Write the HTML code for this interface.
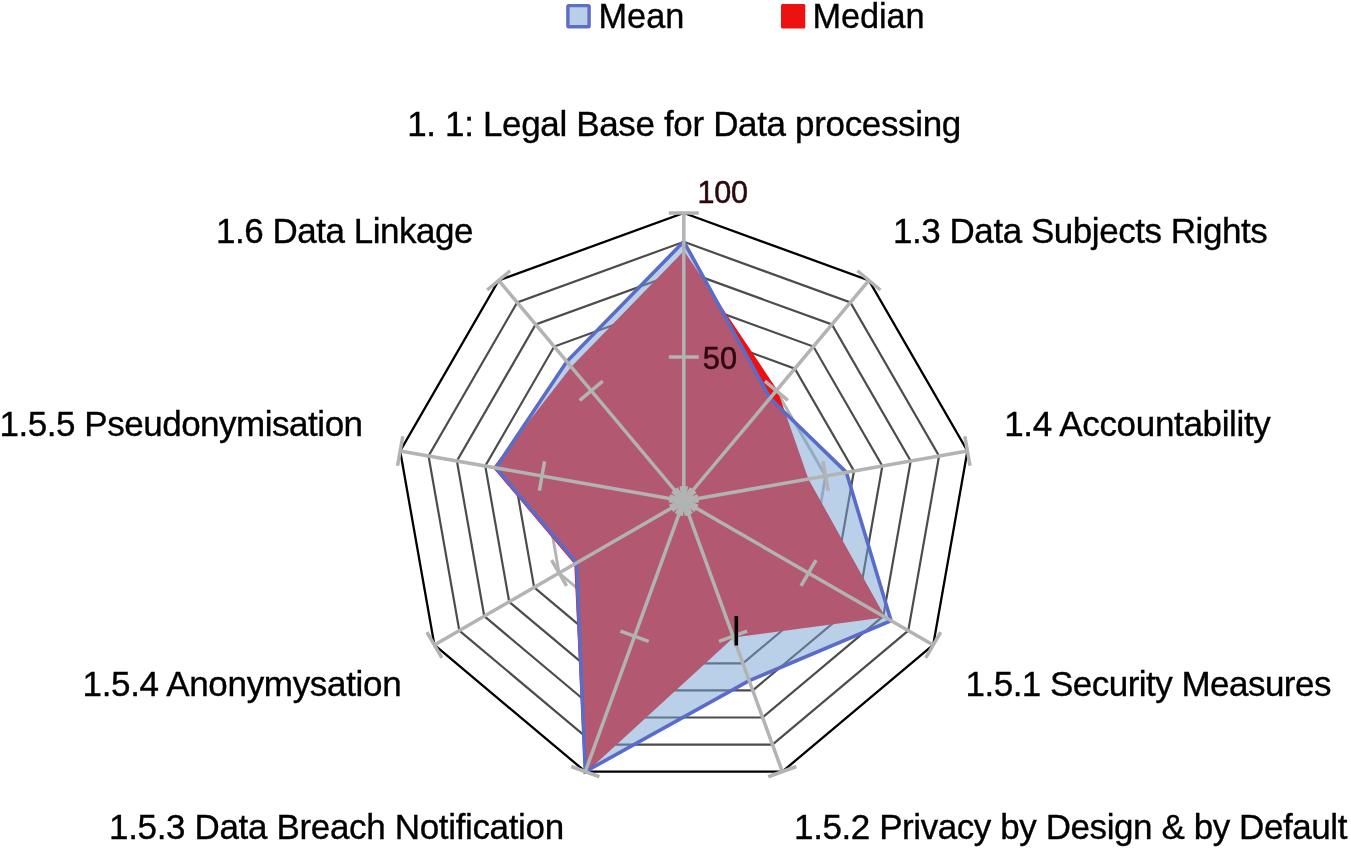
<!DOCTYPE html>
<html><head><meta charset="utf-8"><title>Radar chart</title>
<style>
html,body{margin:0;padding:0;background:#fff;}
body{width:1351px;height:849px;overflow:hidden;}
svg{display:block;}
</style></head><body>
<svg width="1351" height="849" viewBox="0 0 1351 849">
<rect width="1351" height="849" fill="#fff"/>
<g fill="none" stroke-linejoin="miter">
<polygon points="683.80,472.20 702.31,478.94 712.16,496.00 708.74,515.40 693.65,528.06 673.95,528.06 658.86,515.40 655.44,496.00 665.29,478.94" stroke="#4c4c4c" stroke-width="2.2"/>
<polygon points="683.80,443.40 720.82,456.88 740.52,491.00 733.68,529.80 703.50,555.13 664.10,555.13 633.92,529.80 627.08,491.00 646.78,456.88" stroke="#4c4c4c" stroke-width="2.2"/>
<polygon points="683.80,414.60 739.34,434.81 768.89,486.00 758.62,544.20 713.35,582.19 654.25,582.19 608.98,544.20 598.71,486.00 628.26,434.81" stroke="#4c4c4c" stroke-width="2.2"/>
<polygon points="683.80,385.80 757.85,412.75 797.25,481.00 783.57,558.60 723.20,609.25 644.40,609.25 584.03,558.60 570.35,481.00 609.75,412.75" stroke="#4c4c4c" stroke-width="2.2"/>
<polygon points="683.80,328.20 794.87,368.63 853.97,470.99 833.45,587.40 742.90,663.38 624.70,663.38 534.15,587.40 513.63,470.99 572.73,368.63" stroke="#4c4c4c" stroke-width="2.2"/>
<polygon points="683.80,299.40 813.39,346.57 882.34,465.99 858.39,601.80 752.75,690.44 614.85,690.44 509.21,601.80 485.26,465.99 554.21,346.57" stroke="#4c4c4c" stroke-width="2.2"/>
<polygon points="683.80,270.60 831.90,324.50 910.70,460.99 883.33,616.20 762.60,717.51 605.00,717.51 484.27,616.20 456.90,460.99 535.70,324.50" stroke="#4c4c4c" stroke-width="2.2"/>
<polygon points="683.80,241.80 850.41,302.44 939.06,455.99 908.27,630.60 772.45,744.57 595.15,744.57 459.33,630.60 428.54,455.99 517.19,302.44" stroke="#4c4c4c" stroke-width="2.2"/>
<polygon points="683.80,357.00 776.36,390.69 825.61,475.99 808.51,573.00 733.05,636.32 634.55,636.32 559.09,573.00 541.99,475.99 591.24,390.69" stroke="#b2b3b3" stroke-width="2.9"/>
<polygon points="683.80,213.00 868.92,280.38 967.42,450.99 933.22,645.00 782.30,771.63 585.30,771.63 434.38,645.00 400.18,450.99 498.68,280.38" stroke="#000" stroke-width="2.3"/>
</g>
<polygon points="683.80,252.74 776.36,390.69 807.18,479.25 883.33,616.20 733.05,636.32 585.30,771.63 575.43,563.57 494.48,467.62 571.99,367.75" fill="#f01010" stroke="#f01010" stroke-width="2.4" stroke-linejoin="miter"/>
<polygon points="683.80,241.51 770.07,398.19 846.32,472.34 891.06,620.66 749.21,680.70 585.30,771.63 576.55,562.92 495.76,467.84 566.80,361.57" fill="rgba(115,161,209,0.5)" stroke="none"/>
<polygon points="683.80,241.51 770.07,398.19 846.32,472.34 891.06,620.66 749.21,680.70 585.30,771.63 576.55,562.92 495.76,467.84 566.80,361.57" fill="none" stroke="#5a6cc8" stroke-width="3.6" stroke-linejoin="miter" stroke-miterlimit="3"/>
<g stroke="#b2b3b3" stroke-width="3.5" fill="none">
<g transform="translate(683.80 501.00) rotate(0.000)">
<line x1="0" y1="0" x2="0" y2="-288.00"/>
<line x1="-15" y1="-0.00" x2="15" y2="-0.00"/>
<line x1="-15" y1="-144.00" x2="15" y2="-144.00"/>
<line x1="-15" y1="-288.00" x2="15" y2="-288.00"/>
</g>
<g transform="translate(683.80 501.00) rotate(40.000)">
<line x1="0" y1="0" x2="0" y2="-288.00"/>
<line x1="-15" y1="-0.00" x2="15" y2="-0.00"/>
<line x1="-15" y1="-144.00" x2="15" y2="-144.00"/>
<line x1="-15" y1="-288.00" x2="15" y2="-288.00"/>
</g>
<g transform="translate(683.80 501.00) rotate(80.000)">
<line x1="0" y1="0" x2="0" y2="-288.00"/>
<line x1="-15" y1="-0.00" x2="15" y2="-0.00"/>
<line x1="-15" y1="-144.00" x2="15" y2="-144.00"/>
<line x1="-15" y1="-288.00" x2="15" y2="-288.00"/>
</g>
<g transform="translate(683.80 501.00) rotate(120.000)">
<line x1="0" y1="0" x2="0" y2="-288.00"/>
<line x1="-15" y1="-0.00" x2="15" y2="-0.00"/>
<line x1="-15" y1="-144.00" x2="15" y2="-144.00"/>
<line x1="-15" y1="-288.00" x2="15" y2="-288.00"/>
</g>
<g transform="translate(683.80 501.00) rotate(160.000)">
<line x1="0" y1="0" x2="0" y2="-288.00"/>
<line x1="-15" y1="-0.00" x2="15" y2="-0.00"/>
<line x1="-15" y1="-144.00" x2="15" y2="-144.00"/>
<line x1="-15" y1="-288.00" x2="15" y2="-288.00"/>
</g>
<g transform="translate(683.80 501.00) rotate(200.000)">
<line x1="0" y1="0" x2="0" y2="-288.00"/>
<line x1="-15" y1="-0.00" x2="15" y2="-0.00"/>
<line x1="-15" y1="-144.00" x2="15" y2="-144.00"/>
<line x1="-15" y1="-288.00" x2="15" y2="-288.00"/>
</g>
<g transform="translate(683.80 501.00) rotate(240.000)">
<line x1="0" y1="0" x2="0" y2="-288.00"/>
<line x1="-15" y1="-0.00" x2="15" y2="-0.00"/>
<line x1="-15" y1="-144.00" x2="15" y2="-144.00"/>
<line x1="-15" y1="-288.00" x2="15" y2="-288.00"/>
</g>
<g transform="translate(683.80 501.00) rotate(280.000)">
<line x1="0" y1="0" x2="0" y2="-288.00"/>
<line x1="-15" y1="-0.00" x2="15" y2="-0.00"/>
<line x1="-15" y1="-144.00" x2="15" y2="-144.00"/>
<line x1="-15" y1="-288.00" x2="15" y2="-288.00"/>
</g>
<g transform="translate(683.80 501.00) rotate(320.000)">
<line x1="0" y1="0" x2="0" y2="-288.00"/>
<line x1="-15" y1="-0.00" x2="15" y2="-0.00"/>
<line x1="-15" y1="-144.00" x2="15" y2="-144.00"/>
<line x1="-15" y1="-288.00" x2="15" y2="-288.00"/>
</g>
</g>
<rect x="734.5" y="616" width="3.6" height="29.5" fill="#000"/>
<g font-family="'Liberation Sans', Arial, sans-serif" fill="#000" stroke="#000" stroke-width="0.35">
<text x="407.20" y="135.7" font-size="35.0" letter-spacing="-0.346">1. 1: Legal Base for Data processing</text>
<text x="893.00" y="243.4" font-size="35.0" letter-spacing="-0.457">1.3 Data Subjects Rights</text>
<text x="1004.20" y="436.4" font-size="35.0" letter-spacing="-0.337">1.4 Accountability</text>
<text x="965.60" y="695.8" font-size="35.0" letter-spacing="-0.527">1.5.1 Security Measures</text>
<text x="794.10" y="839.0" font-size="35.0" letter-spacing="-0.420">1.5.2 Privacy by Design &amp; by Default</text>
<text x="109.00" y="839.0" font-size="35.0" letter-spacing="-0.339">1.5.3 Data Breach Notification</text>
<text x="82.50" y="695.8" font-size="35.0" letter-spacing="-0.322">1.5.4 Anonymysation</text>
<text x="-0.40" y="436.4" font-size="35.0" letter-spacing="-0.481">1.5.5 Pseudonymisation</text>
<text x="216.10" y="243.4" font-size="35.0" letter-spacing="-0.491">1.6 Data Linkage</text>
<text x="697.5" y="202.6" font-size="30.6" letter-spacing="-0.3" fill="#2c070b" stroke="#2c070b" stroke-width="0.5">100</text>
<text x="702.8" y="369.3" font-size="30.8" fill="#2c070b" stroke="#2c070b" stroke-width="0.5">50</text>
<rect x="567.9" y="5.6" width="21.2" height="21.2" rx="0.8" fill="#b9cfe9" stroke="#5e6ec6" stroke-width="3.4" stroke-linejoin="round"/>
<text x="598.6" y="28" font-size="34.3" letter-spacing="-0.05">Mean</text>
<rect x="781" y="4" width="24.3" height="24.6" rx="1.5" fill="#ee1111" stroke="none"/>
<text x="812.5" y="28" font-size="34.3" letter-spacing="-0.1">Median</text>
</g>
</svg>
</body></html>
